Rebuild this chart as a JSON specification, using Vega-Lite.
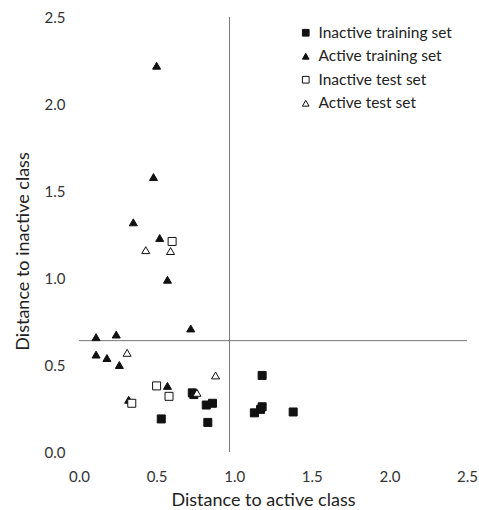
{
  "$schema": "https://vega.github.io/schema/vega-lite/v6.json",
  "width": 388,
  "height": 435,
  "autosize": "none",
  "padding": {"left": 79, "top": 17, "right": 12, "bottom": 58},
  "background": "white",
  "config": {
    "view": {"stroke": null},
    "font": "Lato",
    "axis": {"domain": false, "ticks": false, "grid": false, "labelFlush": false, "labelFont": "Lato", "titleFont": "Lato", "labelFontSize": 15, "titleFontSize": 18, "titleFontWeight": "normal", "labelColor": "#333", "titleColor": "#222"},
    "legend": {"labelFont": "Lato", "labelFontSize": 15.5, "labelColor": "#222", "symbolStrokeWidth": 1}
  },
  "datasets": {
    "pts": [
      {"series": "Inactive training set", "x": 1.18, "y": 0.44},
      {"series": "Inactive training set", "x": 0.73, "y": 0.34},
      {"series": "Inactive training set", "x": 0.74, "y": 0.33},
      {"series": "Inactive training set", "x": 0.82, "y": 0.27},
      {"series": "Inactive training set", "x": 0.86, "y": 0.28},
      {"series": "Inactive training set", "x": 1.13, "y": 0.225},
      {"series": "Inactive training set", "x": 1.18, "y": 0.26},
      {"series": "Inactive training set", "x": 1.17, "y": 0.245},
      {"series": "Inactive training set", "x": 1.38, "y": 0.23},
      {"series": "Inactive training set", "x": 0.53, "y": 0.19},
      {"series": "Inactive training set", "x": 0.83, "y": 0.17},
      {"series": "Active training set", "x": 0.50, "y": 2.22},
      {"series": "Active training set", "x": 0.48, "y": 1.58},
      {"series": "Active training set", "x": 0.35, "y": 1.32},
      {"series": "Active training set", "x": 0.52, "y": 1.23},
      {"series": "Active training set", "x": 0.57, "y": 0.99},
      {"series": "Active training set", "x": 0.72, "y": 0.71},
      {"series": "Active training set", "x": 0.11, "y": 0.66},
      {"series": "Active training set", "x": 0.24, "y": 0.675},
      {"series": "Active training set", "x": 0.11, "y": 0.56},
      {"series": "Active training set", "x": 0.18, "y": 0.54},
      {"series": "Active training set", "x": 0.26, "y": 0.50},
      {"series": "Active training set", "x": 0.57, "y": 0.38},
      {"series": "Active training set", "x": 0.32, "y": 0.30},
      {"series": "Inactive test set", "x": 0.60, "y": 1.21},
      {"series": "Inactive test set", "x": 0.50, "y": 0.38},
      {"series": "Inactive test set", "x": 0.58, "y": 0.32},
      {"series": "Inactive test set", "x": 0.34, "y": 0.28},
      {"series": "Active test set", "x": 0.43, "y": 1.16},
      {"series": "Active test set", "x": 0.59, "y": 1.155},
      {"series": "Active test set", "x": 0.31, "y": 0.57},
      {"series": "Active test set", "x": 0.88, "y": 0.44},
      {"series": "Active test set", "x": 0.76, "y": 0.34}
    ],
    "vline": [{"x": 0.97, "y": 0, "y2": 2.5}],
    "hline": [{"y": 0.64, "x": 0, "x2": 2.5}]
  },
  "layer": [
    {
      "data": {"name": "vline"},
      "mark": {"type": "rule", "color": "#777", "strokeWidth": 1},
      "encoding": {
        "x": {"field": "x", "type": "quantitative"},
        "y": {"field": "y", "type": "quantitative"},
        "y2": {"field": "y2"}
      }
    },
    {
      "data": {"name": "hline"},
      "mark": {"type": "rule", "color": "#777", "strokeWidth": 1},
      "encoding": {
        "y": {"field": "y", "type": "quantitative"},
        "x": {"field": "x", "type": "quantitative"},
        "x2": {"field": "x2"}
      }
    },
    {
      "data": {"name": "pts"},
      "mark": {"type": "point", "filled": true, "strokeWidth": 1, "opacity": 1},
      "encoding": {
        "x": {"field": "x", "type": "quantitative", "title": "Distance to active class", "scale": {"domain": [0, 2.5], "nice": false}, "axis": {"values": [0, 0.5, 1, 1.5, 2, 2.5], "format": ".1f", "labelPadding": 17, "titlePadding": 7, "titleX": 184}},
        "y": {"field": "y", "type": "quantitative", "title": "Distance to inactive class", "scale": {"domain": [0, 2.5], "nice": false}, "axis": {"values": [0, 0.5, 1, 1.5, 2, 2.5], "format": ".1f", "labelPadding": 14, "titlePadding": 12, "titleY": 234}},
        "shape": {"field": "series", "type": "nominal", "scale": {"domain": ["Inactive training set", "Active training set", "Inactive test set", "Active test set"], "range": ["square", "triangle-up", "square", "triangle-up"]}, "legend": {"title": null, "orient": "none", "legendX": 219, "legendY": 8, "rowPadding": 6.5, "symbolSize": 45, "labelOffset": 5}},
        "fill": {"field": "series", "type": "nominal", "scale": {"domain": ["Inactive training set", "Active training set", "Inactive test set", "Active test set"], "range": ["#111", "#111", "white", "white"]}, "legend": {"title": null, "orient": "none", "legendX": 219, "legendY": 8}},
        "stroke": {"field": "series", "type": "nominal", "scale": {"domain": ["Inactive training set", "Active training set", "Inactive test set", "Active test set"], "range": ["#111", "#111", "#111", "#111"]}, "legend": {"title": null, "orient": "none", "legendX": 219, "legendY": 8}},
        "size": {"value": 64}
      }
    }
  ]
}
